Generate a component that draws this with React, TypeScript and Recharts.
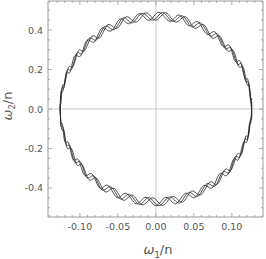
import React from "react";
import { LineChart, Line, XAxis, YAxis, ReferenceLine } from "recharts";

// three passes of the wobbling orbit, [omega1/n, omega2/n]
const loopA: number[][] = [
  [0.126, 0.02], [0.125, 0.029], [0.123, 0.118], [0.12, 0.125], [0.115, 0.211], [0.109, 0.215],
  [0.102, 0.296], [0.094, 0.295], [0.084, 0.369], [0.074, 0.36], [0.063, 0.427], [0.051, 0.409],
  [0.039, 0.467], [0.026, 0.44], [0.013, 0.487], [0, 0.45], [-0.013, 0.487], [-0.026, 0.44],
  [-0.039, 0.467], [-0.051, 0.409], [-0.063, 0.427], [-0.074, 0.36], [-0.084, 0.369], [-0.094, 0.295],
  [-0.102, 0.296], [-0.109, 0.215], [-0.115, 0.211], [-0.12, 0.125], [-0.123, 0.118], [-0.125, 0.029],
  [-0.126, 0.02], [-0.125, -0.069], [-0.123, -0.078], [-0.12, -0.165], [-0.115, -0.171], [-0.109, -0.255],
  [-0.102, -0.256], [-0.094, -0.335], [-0.084, -0.329], [-0.074, -0.4], [-0.063, -0.387], [-0.051, -0.449],
  [-0.039, -0.427], [-0.026, -0.48], [-0.013, -0.447], [0, -0.49], [0.013, -0.447], [0.026, -0.48],
  [0.039, -0.427], [0.051, -0.449], [0.063, -0.387], [0.074, -0.4], [0.084, -0.329], [0.094, -0.335],
  [0.102, -0.256], [0.109, -0.255], [0.115, -0.171], [0.12, -0.165], [0.123, -0.078], [0.125, -0.069],
  [0.126, 0.02],
];

const loopB: number[][] = [
  [0.126, 0.036], [0.125, 0.045], [0.122, 0.134], [0.118, 0.141], [0.113, 0.226], [0.107, 0.229],
  [0.099, 0.309], [0.091, 0.307], [0.081, 0.38], [0.071, 0.37], [0.059, 0.435], [0.047, 0.416],
  [0.035, 0.472], [0.022, 0.443], [0.009, 0.489], [-0.004, 0.45], [-0.018, 0.485], [-0.031, 0.436],
  [-0.043, 0.462], [-0.055, 0.402], [-0.067, 0.419], [-0.078, 0.35], [-0.088, 0.358], [-0.097, 0.282],
  [-0.104, 0.283], [-0.111, 0.201], [-0.117, 0.196], [-0.121, 0.11], [-0.124, 0.102], [-0.126, 0.013],
  [-0.126, 0.004], [-0.125, -0.085], [-0.122, -0.094], [-0.118, -0.181], [-0.113, -0.186], [-0.107, -0.269],
  [-0.099, -0.269], [-0.091, -0.347], [-0.081, -0.34], [-0.071, -0.41], [-0.059, -0.395], [-0.047, -0.456],
  [-0.035, -0.432], [-0.022, -0.483], [-0.009, -0.449], [0.004, -0.49], [0.018, -0.445], [0.031, -0.476],
  [0.043, -0.422], [0.055, -0.442], [0.067, -0.379], [0.078, -0.39], [0.088, -0.318], [0.097, -0.322],
  [0.104, -0.243], [0.111, -0.241], [0.117, -0.156], [0.121, -0.15], [0.124, -0.062], [0.126, -0.053],
  [0.126, 0.036],
];

const loopC: number[][] = [
  [0.126, 0.053], [0.124, 0.062], [0.121, 0.15], [0.117, 0.156], [0.111, 0.241], [0.104, 0.243],
  [0.097, 0.322], [0.088, 0.318], [0.078, 0.39], [0.067, 0.379], [0.055, 0.442], [0.043, 0.422],
  [0.031, 0.476], [0.018, 0.445], [0.004, 0.49], [-0.009, 0.449], [-0.022, 0.483], [-0.035, 0.432],
  [-0.047, 0.456], [-0.059, 0.395], [-0.071, 0.41], [-0.081, 0.34], [-0.091, 0.347], [-0.099, 0.269],
  [-0.107, 0.269], [-0.113, 0.186], [-0.118, 0.181], [-0.122, 0.094], [-0.125, 0.085], [-0.126, -0.004],
  [-0.126, -0.013], [-0.124, -0.102], [-0.121, -0.11], [-0.117, -0.196], [-0.111, -0.201], [-0.104, -0.283],
  [-0.097, -0.282], [-0.088, -0.358], [-0.078, -0.35], [-0.067, -0.419], [-0.055, -0.402], [-0.043, -0.462],
  [-0.031, -0.436], [-0.018, -0.485], [-0.004, -0.45], [0.009, -0.489], [0.022, -0.443], [0.035, -0.472],
  [0.047, -0.416], [0.059, -0.435], [0.071, -0.37], [0.081, -0.38], [0.091, -0.307], [0.099, -0.309],
  [0.107, -0.229], [0.113, -0.226], [0.118, -0.141], [0.122, -0.134], [0.125, -0.045], [0.126, -0.036],
  [0.126, 0.053],
];

const xTicks = [
  -0.14, -0.13, -0.12, -0.11, -0.1, -0.09, -0.08, -0.07, -0.06, -0.05, -0.04, -0.03, -0.02, -0.01, 0,
  0.01, 0.02, 0.03, 0.04, 0.05, 0.06, 0.07, 0.08, 0.09, 0.1, 0.11, 0.12, 0.13, 0.14,
];
const xMajor = [-0.1, -0.05, 0, 0.05, 0.1];
const yTicks = [-0.5, -0.45, -0.4, -0.35, -0.3, -0.25, -0.2, -0.15, -0.1, -0.05, 0, 0.05, 0.1, 0.15, 0.2, 0.25, 0.3, 0.35, 0.4, 0.45, 0.5];
const yMajor = [-0.4, -0.2, 0, 0.2, 0.4];

const toPoints = (arr: number[][]) => arr.map(([x, y]) => ({ x, y }));

const frameColor = "#999";
const textColor = "#555";
const font = "'DejaVu Sans', sans-serif";

const isMajor = (v: number, list: number[]) => list.some((m) => Math.abs(m - v) < 1e-6);

const XTick = (props: any) => {
  const { x, y, payload, side } = props;
  const v = payload.value;
  const major = isMajor(v, xMajor);
  const len = major ? 4 : 2;
  const dir = side === "top" ? 1 : -1;
  return (
    <g>
      <line x1={x} x2={x} y1={y} y2={y + dir * len} stroke={frameColor} strokeWidth={0.8} />
      {side === "bottom" && major && (
        <text x={x} y={y + 13} textAnchor="middle" fontSize={9.5} fill={textColor} fontFamily={font}>
          {v.toFixed(2)}
        </text>
      )}
    </g>
  );
};

const YTick = (props: any) => {
  const { x, y, payload, side } = props;
  const v = payload.value;
  const major = isMajor(v, yMajor);
  const len = major ? 4 : 2;
  const dir = side === "right" ? -1 : 1;
  return (
    <g>
      <line x1={x} x2={x + dir * len} y1={y} y2={y} stroke={frameColor} strokeWidth={0.8} />
      {side === "left" && major && (
        <text x={x - 5} y={y + 3.5} textAnchor="end" fontSize={9.5} fill={textColor} fontFamily={font}>
          {v.toFixed(1)}
        </text>
      )}
    </g>
  );
};

export default function App() {
  const xDomain = [-0.142, 0.141];
  const yDomain = [-0.547, 0.547];
  return (
    <div style={{ position: "absolute", left: 0, top: 0, width: 266, height: 259 }}>
      <LineChart width={266} height={259} margin={{ top: 0, right: 0, bottom: 0, left: 0 }}>
        <XAxis
          xAxisId="b"
          dataKey="x"
          type="number"
          domain={xDomain}
          allowDataOverflow
          ticks={xTicks}
          interval={0}
          height={42}
          tickSize={0}
          tickMargin={0}
          tickLine={false}
          axisLine={{ stroke: frameColor }}
          tick={(p: any) => <XTick {...p} side="bottom" />}
        />
        <XAxis
          xAxisId="t"
          orientation="top"
          dataKey="x"
          type="number"
          domain={xDomain}
          allowDataOverflow
          ticks={xTicks}
          interval={0}
          height={1}
          tickSize={0}
          tickMargin={0}
          tickLine={false}
          axisLine={{ stroke: frameColor }}
          tick={(p: any) => <XTick {...p} side="top" />}
        />
        <YAxis
          yAxisId="l"
          dataKey="y"
          type="number"
          domain={yDomain}
          allowDataOverflow
          ticks={yTicks}
          interval={0}
          width={48}
          tickSize={0}
          tickMargin={0}
          tickLine={false}
          axisLine={{ stroke: frameColor }}
          tick={(p: any) => <YTick {...p} side="left" />}
        />
        <YAxis
          yAxisId="r"
          orientation="right"
          dataKey="y"
          type="number"
          domain={yDomain}
          allowDataOverflow
          ticks={yTicks}
          interval={0}
          width={3}
          tickSize={0}
          tickMargin={0}
          tickLine={false}
          axisLine={{ stroke: frameColor }}
          tick={(p: any) => <YTick {...p} side="right" />}
        />
        <ReferenceLine xAxisId="b" yAxisId="l" x={0} stroke="#bbb" strokeWidth={0.8} />
        <ReferenceLine xAxisId="b" yAxisId="l" y={0} stroke="#bbb" strokeWidth={0.8} />
        {[loopA, loopB, loopC].map((loop, i) => (
          <Line
            key={i}
            xAxisId="b"
            yAxisId="l"
            data={toPoints(loop)}
            dataKey="y"
            type="natural"
            stroke="#222"
            strokeWidth={0.8}
            dot={false}
            activeDot={false}
            isAnimationActive={false}
          />
        ))}
      </LineChart>
      <div
        style={{
          position: "absolute",
          left: 158,
          top: 242,
          transform: "translateX(-50%)",
          fontFamily: font,
          fontSize: 13,
          color: textColor,
          whiteSpace: "nowrap",
          lineHeight: "15px",
        }}
      >
        <i>ω</i>
        <sub style={{ fontSize: 8.5 }}>1</sub>/n
      </div>
      <div
        style={{
          position: "absolute",
          left: 10,
          top: 106,
          transform: "translate(-50%, -50%) rotate(-90deg)",
          fontFamily: font,
          fontSize: 13,
          color: textColor,
          whiteSpace: "nowrap",
          lineHeight: "15px",
        }}
      >
        <i>ω</i>
        <sub style={{ fontSize: 8.5 }}>2</sub>/n
      </div>
    </div>
  );
}
